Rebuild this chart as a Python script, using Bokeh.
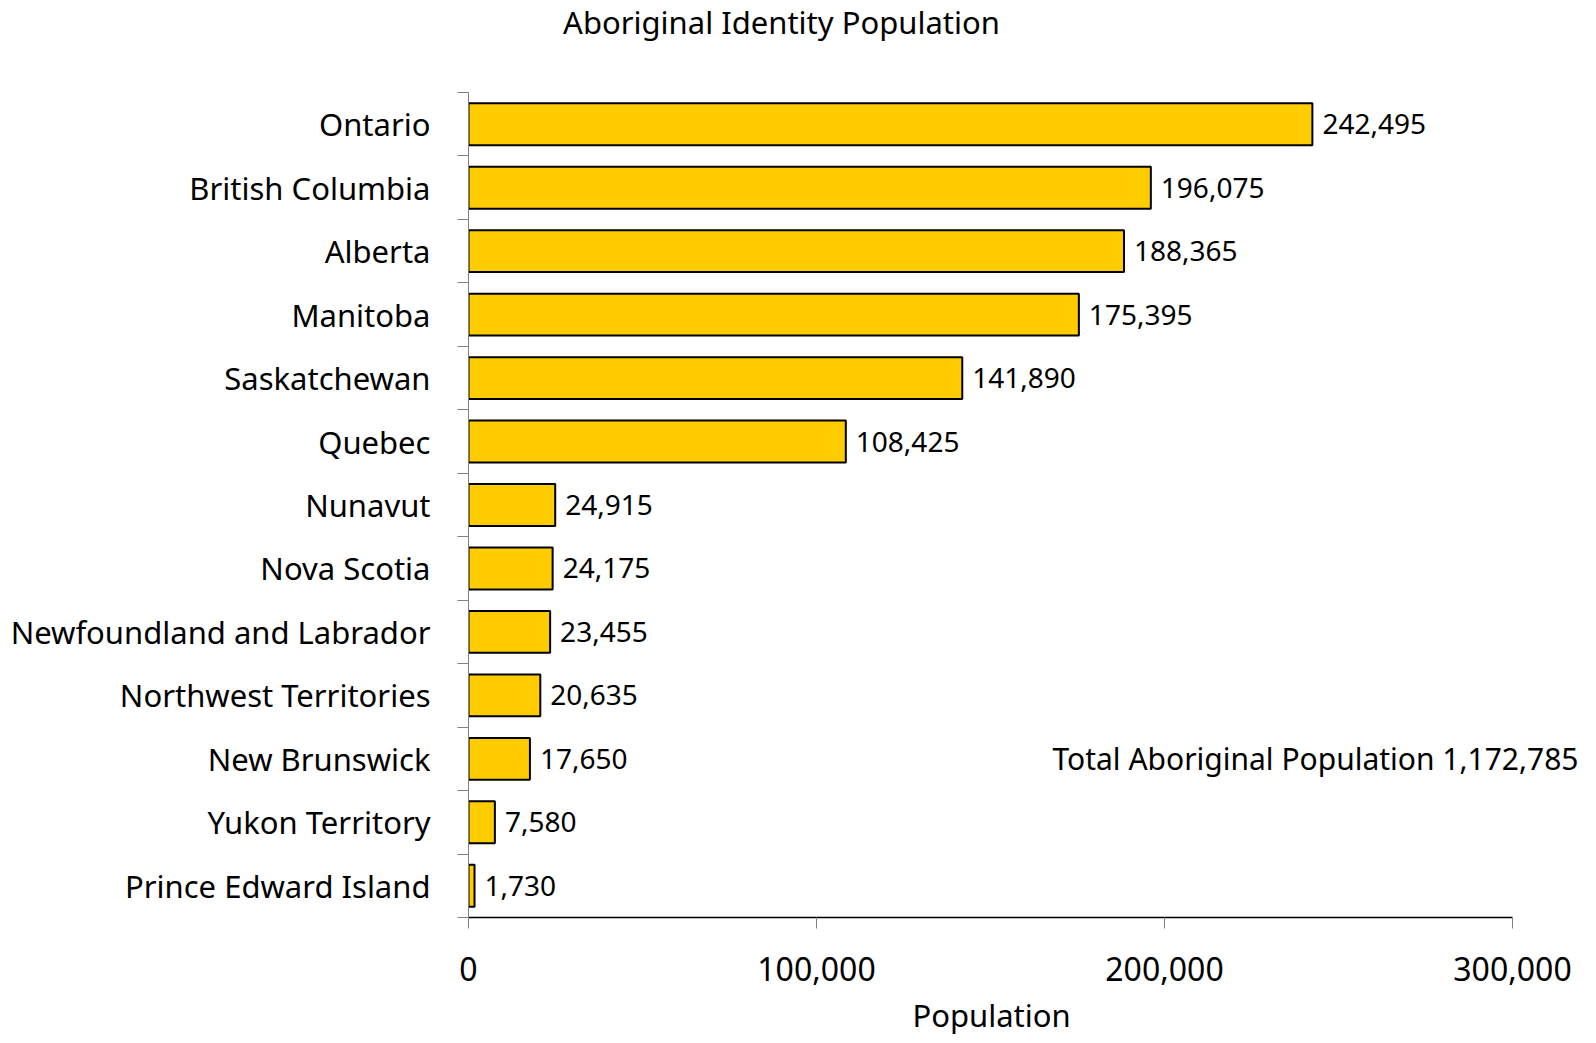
from bokeh.plotting import figure
from bokeh.models import FixedTicker, Range1d, Label, LabelSet, ColumnDataSource, NumeralTickFormatter, Title
from bokeh.core.properties import value
from bokeh.embed import file_html
from bokeh.resources import INLINE

# ---- data ----
provinces = ["Ontario", "British Columbia", "Alberta", "Manitoba", "Saskatchewan",
             "Quebec", "Nunavut", "Nova Scotia", "Newfoundland and Labrador",
             "Northwest Territories", "New Brunswick", "Yukon Territory",
             "Prince Edward Island"]
population = [242495, 196075, 188365, 175395, 141890, 108425, 24915, 24175,
              23455, 20635, 17650, 7580, 1730]
x_ticks = [0, 100000, 200000, 300000]
title_text = "Aboriginal Identity Population"
x_title = "Population"
total_text = "Total Aboriginal Population 1,172,785"
total_row = "New Brunswick"

FONT = "Noto Sans"
n = len(provinces)
ypos = [n - 1 - i for i in range(n)]
labels = ["{:,}".format(v) for v in population]
src = ColumnDataSource(dict(y=ypos, v=population, lab=labels))

# ---- layout (pixels) ----
W, H = 1596, 1043
LEFT = 468            # frame left
AXIS_RIGHT = 1512     # pixel where 300,000 sits
TOP_GAP = 92          # pixels above the first category band
BOTTOM = 126          # below-panel height
frame_h = H - BOTTOM
row_px = (frame_h - TOP_GAP) / n
x_end = x_ticks[-1] * (W - LEFT) / (AXIS_RIGHT - LEFT)
y_end = n - 0.5 + TOP_GAP / row_px

p = figure(width=W, height=H, output_backend="svg", toolbar_location=None,
           x_range=Range1d(0, x_end), y_range=Range1d(-0.5, y_end),
           min_border_left=LEFT, min_border_right=0, min_border_top=0,
           min_border_bottom=BOTTOM)
p.outline_line_color = None
p.grid.visible = False
p.background_fill_color = "white"
p.border_fill_color = "white"

p.hbar(y="y", left=0, right="v", height=0.66, source=src,
       fill_color="#FFCC00", line_color="black", line_width=2)

p.add_layout(LabelSet(x="v", y="y", text="lab", source=src, x_offset=10,
                      text_baseline="middle", text_align="left",
                      text_font=value(FONT), text_font_size="28px", text_color="black"))

# y axis: category names at centers, ticks at boundaries
yax = p.yaxis[0]
yax.bounds = (-0.5, n - 0.5)
yax.ticker = FixedTicker(ticks=ypos, minor_ticks=[i - 0.5 for i in range(n + 1)])
yax.major_label_overrides = {yy: name for yy, name in zip(ypos, provinces)}
yax.major_tick_line_color = None
yax.major_tick_out = 0
yax.major_tick_in = 0
yax.minor_tick_out = 11
yax.minor_tick_in = 0
yax.minor_tick_line_color = "#808080"
yax.axis_line_color = "#808080"
yax.major_label_standoff = 27
yax.major_label_text_font = FONT
yax.major_label_text_font_size = "31px"
yax.major_label_text_color = "black"

xax = p.xaxis[0]
xax.bounds = (x_ticks[0], x_ticks[-1])
xax.ticker = FixedTicker(ticks=x_ticks, minor_ticks=[])
xax.formatter = NumeralTickFormatter(format="0,0")
xax.axis_line_color = "black"
xax.axis_line_width = 1.5
xax.major_tick_out = 11
xax.major_tick_in = 0
xax.major_tick_line_color = "#808080"
xax.minor_tick_line_color = None
xax.major_label_standoff = 28
xax.major_label_text_font = FONT
xax.major_label_text_font_size = "32px"
xax.major_label_text_color = "black"

p.add_layout(Title(text=x_title, align="left", offset=444, standoff=16,
                   text_font=FONT, text_font_size="31px", text_font_style="normal",
                   text_color="black"), "below")

p.add_layout(Label(x=0, y=n - 0.5, x_offset=313, y_offset=71, text=title_text,
                   text_align="center", text_baseline="middle",
                   text_font=FONT, text_font_size="31px", text_color="black"))
p.add_layout(Label(x=x_ticks[-1], y=ypos[provinces.index(total_row)], x_offset=66,
                   text=total_text, text_align="right", text_baseline="middle",
                   text_font=FONT, text_font_size="30px", text_color="black"))

open("out.html", "w").write(file_html(p, INLINE))
